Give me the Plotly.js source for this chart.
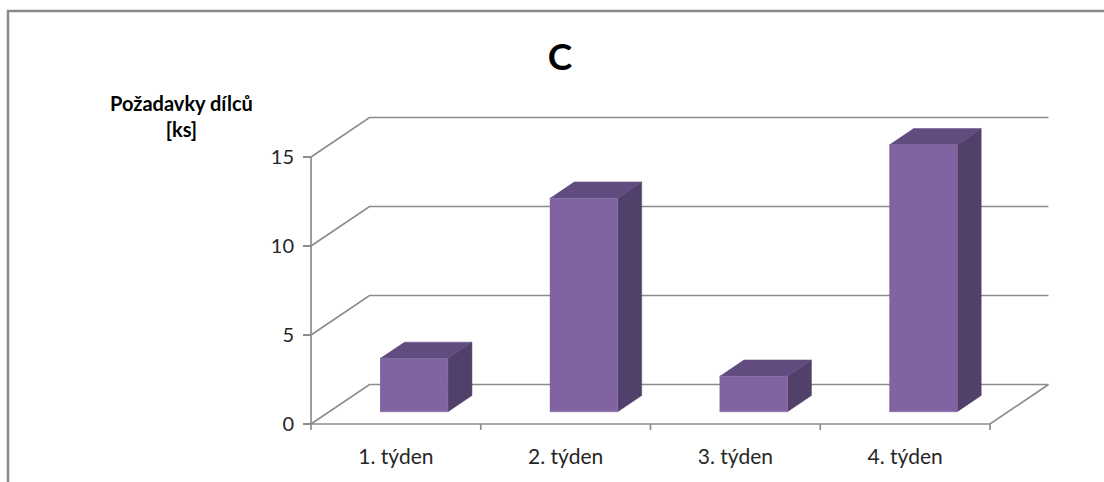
<!DOCTYPE html>
<html>
<head>
<meta charset="utf-8">
<script src="https://cdn.plot.ly/plotly-3.0.1.min.js"></script>
<style>
  html, body { margin: 0; padding: 0; background: #fff; }
  #chart { width: 1104px; height: 482px; }
</style>
</head>
<body>
<div id="chart"></div>
<script>
// Weekly demand for part C
const categories = ['1. týden', '2. týden', '3. týden', '4. týden'];
const demand = [3, 12, 2, 15];
const yTicks = [0, 5, 10, 15];
const chartTitle = 'C';
const yTitle = 'Požadavky dílců<br>[ks]';

// colours of the bar faces
const faceFront = '#8064a2';
const faceTop = '#614b7f';
const faceSide = '#51406a';
const gridColor = '#8c8c8c';

// page and pseudo-3D geometry (pixels)
const W = 1104, H = 482;
const M = { l: 296, r: 52, t: 100, b: 40 };
const originPx = { x: 311, y: 424 };   // front-left corner of the floor
const pxPerCat = 169.75;                 // width of one category
const pxPerUnit = 17.8;                  // height of one unit
const depthPx = { x: 58.5, y: -39.5 };   // offset from the front plane to the back wall

const plotW = W - M.l - M.r, plotH = H - M.t - M.b;
const x0 = -0.5;                         // left edge of first category
const xRange = [x0 - (originPx.x - M.l) / pxPerCat, x0 + (W - M.r - originPx.x) / pxPerCat];
const yRange = [-(H - M.b - originPx.y) / pxPerUnit, (originPx.y - M.t) / pxPerUnit];
const dX = depthPx.x / pxPerCat;
const dY = -depthPx.y / pxPerUnit;
const xEnd = x0 + categories.length;

// bar footprint: depth band and half width in category units
const barFront = 0.31, barBack = 0.72, barHalf = 0.2;
const tickLen = 6 / pxPerUnit;

const traces = [];
const line = (xs, ys) => traces.push({
  x: xs, y: ys, mode: 'lines', type: 'scatter', hoverinfo: 'skip',
  line: { color: gridColor, width: 1.7 }, showlegend: false
});

// floor outline
line([x0, xEnd, xEnd + dX, x0 + dX, x0], [0, 0, dY, dY, 0]);
// front vertical axis
line([x0, x0], [0, yTicks[yTicks.length - 1]]);
// gridlines running from the front edge back to the wall
yTicks.slice(1).forEach(v => line([x0, x0 + dX, xEnd + dX], [v, v + dY, v + dY]));
// category boundary ticks below the floor
for (let i = 0; i <= categories.length; i++) line([x0 + i, x0 + i], [0, -tickLen]);

// prism faces for each bar
const face = (xs, ys, color) => traces.push({
  x: xs, y: ys, mode: 'lines', type: 'scatter', fill: 'toself', fillcolor: color,
  line: { color: color, width: 0.5 }, hoverinfo: 'skip', showlegend: false
});
demand.forEach((v, i) => {
  const fx = i - barHalf + barFront * dX, fy = barFront * dY;   // front-left-bottom
  const bx = i - barHalf + barBack * dX, by = barBack * dY;     // back-left-bottom
  const w = 2 * barHalf;
  // right side
  face([fx + w, bx + w, bx + w, fx + w], [fy, by, by + v, fy + v], faceSide);
  // top
  face([fx, fx + w, bx + w, bx], [fy + v, fy + v, by + v, by + v], faceTop);
  // front
  face([fx, fx + w, fx + w, fx], [fy, fy, fy + v, fy + v], faceFront);
});

const tickFont = { family: 'Lato, sans-serif', size: 20, color: '#262626' };

const layout = {
  width: W, height: H,
  margin: M,
  paper_bgcolor: '#ffffff', plot_bgcolor: 'rgba(0,0,0,0)',
  showlegend: false,
  title: {
    text: '<b>' + chartTitle + '</b>',
    font: { family: 'Lato, sans-serif', size: 37, color: '#000' },
    x: 560 / W, xref: 'container', xanchor: 'center',
    y: 1 - 57 / H, yref: 'container', yanchor: 'middle'
  },
  xaxis: {
    range: xRange, anchor: 'free', position: (H - M.b - originPx.y) / plotH,
    tickvals: categories.map((_, i) => i), ticktext: categories,
    ticks: '', showgrid: false, zeroline: false, showline: false,
    tickfont: { ...tickFont, size: 21 }, ticklabelstandoff: 18, fixedrange: true
  },
  yaxis: {
    range: yRange, anchor: 'free', position: (originPx.x - M.l) / plotW,
    tickvals: yTicks, ticks: 'outside', ticklen: 8, tickwidth: 1.7, tickcolor: gridColor,
    showgrid: false, zeroline: false, showline: false,
    tickfont: tickFont, ticklabelstandoff: 5, fixedrange: true
  },
  annotations: [{
    text: '<b>' + yTitle + '</b>',
    xref: 'paper', yref: 'paper',
    x: (181 - M.l) / plotW, y: (H - M.b - 116) / plotH,
    xanchor: 'center', yanchor: 'middle', showarrow: false,
    font: { family: 'Lato, sans-serif', size: 20, color: '#000' }
  }],
  shapes: [{
    // chart frame
    type: 'path', xref: 'paper', yref: 'paper',
    path: 'M ' + ((8 - M.l) / plotW) + ' ' + ((H - M.b - 490) / plotH) +
          ' L ' + ((8 - M.l) / plotW) + ' ' + ((H - M.b - 11) / plotH) +
          ' L ' + ((1110 - M.l) / plotW) + ' ' + ((H - M.b - 11) / plotH),
    line: { color: '#8a8a8a', width: 2.5 }
  }]
};

Plotly.newPlot('chart', traces, layout, { staticPlot: true, displayModeBar: false });
</script>
</body>
</html>
